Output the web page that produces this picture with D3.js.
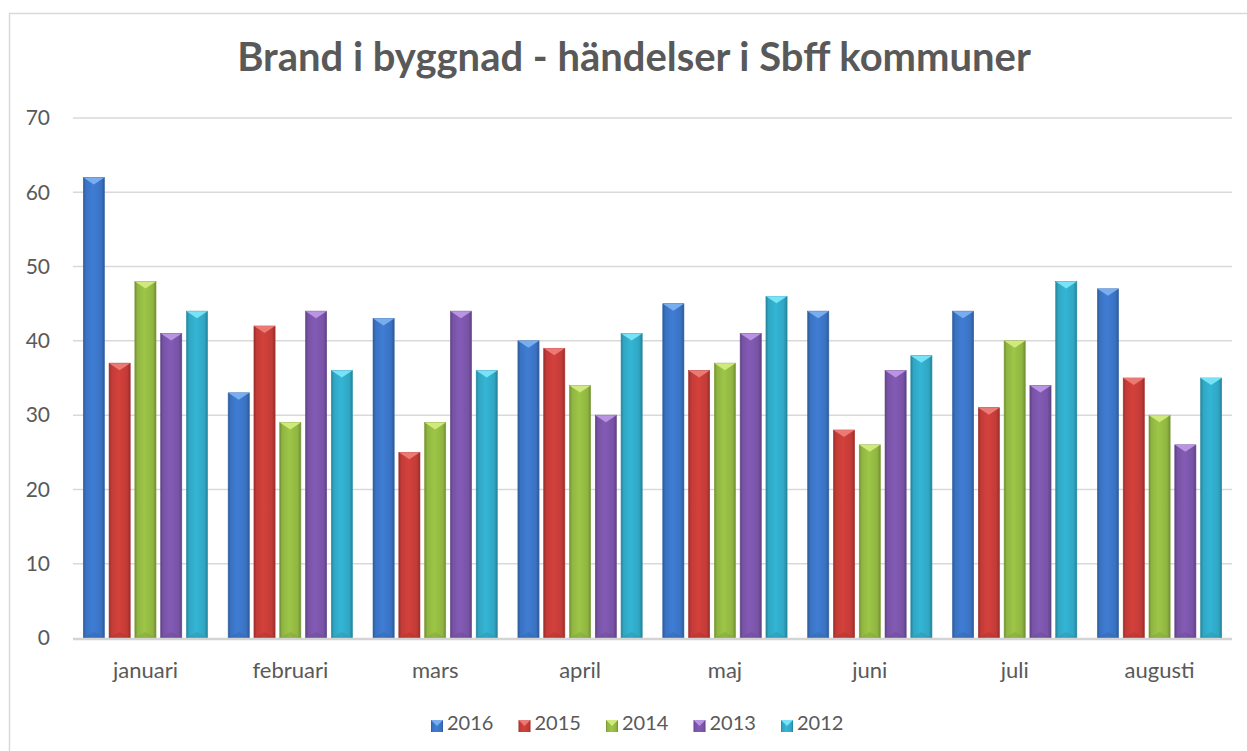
<!DOCTYPE html>
<html>
<head>
<meta charset="utf-8">
<script src="https://cdn.jsdelivr.net/npm/d3@7"></script>
<style>
  body { margin: 0; background: #fff; }
  text { font-family: Lato, "Open Sans", sans-serif; fill: #595959; }
</style>
</head>
<body>
<svg id="chart" width="1247" height="751"></svg>
<script>
'use strict'

let title = 'Brand i byggnad - händelser i Sbff kommuner'
let months = ['januari', 'februari', 'mars', 'april', 'maj', 'juni', 'juli', 'augusti']
let years = ['2016', '2015', '2014', '2013', '2012']
let yTicks = [0, 10, 20, 30, 40, 50, 60, 70]

let v2016 = [62, 33, 43, 40, 45, 44, 44, 47]
let v2015 = [37, 42, 25, 39, 36, 28, 31, 35]
let v2014 = [48, 29, 29, 34, 37, 26, 40, 30]
let v2013 = [41, 44, 44, 30, 41, 36, 34, 26]
let v2012 = [44, 36, 36, 41, 46, 38, 48, 35]

let baseColors = ['#3a72c2', '#c23b37', '#90b541', '#7853a6', '#30a6c3']
let lightColors = ['#78aef0', '#ec7a74', '#cfe97a', '#bb93e3', '#78e2f6']

function wrapper(){
	let series = [v2016, v2015, v2014, v2013, v2012]
	let rows = []
	months.forEach(function(m, i){
		years.forEach(function(y, j){
			rows.push({month: m, year: y, si: j, value: series[j][i]})
		})
	})

	let svg = d3.select('#chart')
	let padding = {top: 118, left: 73, right: 15, bottom: 113}
	let W = 1247, H = 751

	// outer chart border
	svg.append('rect')
		.attr('x', 9.5).attr('y', 13.5)
		.attr('width', 1260).attr('height', 780)
		.attr('fill', 'none').attr('stroke', '#d9d9d9').attr('stroke-width', 1.5)

	let titleText = svg.append('text')
		.attr('x', 634).attr('y', 71)
		.attr('text-anchor', 'middle')
		.style('font-size', '34px').style('font-weight', 'bold')
		.text(title)
	// fit title to the width it has in the original
	let tl = titleText.node().getComputedTextLength()
	titleText.style('font-size', (34 * 794 / tl) + 'px')

	let xScale = d3.scaleBand().domain(months)
		.range([padding.left, W - padding.right])
		.paddingInner(0.142).paddingOuter(0.071)
	let x1 = d3.scaleBand().domain(years)
		.range([0, xScale.bandwidth()])
		.paddingInner(0.18).paddingOuter(0)
	let yScale = d3.scaleLinear().domain([0, 70]).range([H - padding.bottom, padding.top])

	// gridlines
	svg.append('g').selectAll('line')
		.data(yTicks.filter(function(t){ return t > 0 }))
		.enter().append('line')
		.attr('x1', padding.left).attr('x2', W - padding.right)
		.attr('y1', function(d){ return yScale(d) })
		.attr('y2', function(d){ return yScale(d) })
		.attr('stroke', '#d9d9d9').attr('stroke-width', 1.5)

	let yAxis = svg.append('g')
		.attr('transform', 'translate(' + padding.left + ',0)')
		.call(d3.axisLeft(yScale).tickValues(yTicks).tickSize(0).tickPadding(23))
	yAxis.select('.domain').remove()
	yAxis.selectAll('text').style('font-size', '21px').attr('fill', '#595959')

	let xAxis = svg.append('g')
		.attr('transform', 'translate(0,' + yScale(0) + ')')
		.call(d3.axisBottom(xScale).tickSize(0).tickPadding(24))
	xAxis.select('.domain').remove()
	xAxis.selectAll('text').style('font-size', '22px').attr('fill', '#595959')

	// gradients for bevelled bars
	let defs = svg.append('defs')
	baseColors.forEach(function(c, i){
		let g = defs.append('linearGradient').attr('id', 'grad' + i)
			.attr('x1', 0).attr('x2', 1).attr('y1', 0).attr('y2', 0)
		let dark = d3.color(c).darker(0.7)
		let light = d3.color(c).brighter(0.25)
		g.append('stop').attr('offset', '0%').attr('stop-color', dark)
		g.append('stop').attr('offset', '12%').attr('stop-color', c)
		g.append('stop').attr('offset', '45%').attr('stop-color', light)
		g.append('stop').attr('offset', '85%').attr('stop-color', c)
		g.append('stop').attr('offset', '100%').attr('stop-color', dark)
	})

	let bars = svg.append('g').selectAll('.bar')
		.data(rows).enter().append('g')
		.attr('transform', function(d){ return 'translate(' + (xScale(d.month) + x1(d.year)) + ',0)' })

	let bw = x1.bandwidth()
	bars.append('rect')
		.attr('x', 0).attr('width', bw)
		.attr('y', function(d){ return yScale(d.value) })
		.attr('height', function(d){ return yScale(0) - yScale(d.value) })
		.attr('fill', function(d){ return 'url(#grad' + d.si + ')' })
		.attr('stroke', function(d){ return d3.color(baseColors[d.si]).darker(0.4) })
		.attr('stroke-width', 0.6)

	// top bevel
	bars.append('path')
		.attr('d', function(d){
			let y0 = yScale(d.value)
			return 'M0,' + y0 + 'L' + bw + ',' + y0 + 'L' + (bw / 2) + ',' + (y0 + 7) + 'Z'
		})
		.attr('fill', function(d){ return lightColors[d.si] })

	// bottom bevel shadow
	bars.append('path')
		.attr('d', function(d){
			let y0 = yScale(0)
			return 'M0,' + y0 + 'L' + bw + ',' + y0 + 'L' + (bw / 2) + ',' + (y0 - 6) + 'Z'
		})
		.attr('fill', function(d){ return d3.color(baseColors[d.si]).darker(0.4) })
		.attr('opacity', 0.4)

	// baseline
	svg.append('line')
		.attr('x1', padding.left).attr('x2', W - padding.right)
		.attr('y1', yScale(0) + 1).attr('y2', yScale(0) + 1)
		.attr('stroke', '#d4d4d4').attr('stroke-width', 2.5)

	// legend
	let legend = svg.append('g').attr('transform', 'translate(431,726)')
	let items = legend.selectAll('g').data(years).enter().append('g')
		.attr('transform', function(d, i){ return 'translate(' + (i * 87.5) + ',0)' })
	items.append('rect')
		.attr('x', 0).attr('y', -6).attr('width', 12).attr('height', 12)
		.attr('fill', function(d, i){ return 'url(#grad' + i + ')' })
	items.append('path')
		.attr('d', 'M0,-6L12,-6L6,0Z')
		.attr('fill', function(d, i){ return lightColors[i] })
	items.append('text')
		.attr('x', 16).attr('y', 4)
		.style('font-size', '20px')
		.text(function(d){ return d })
}

wrapper()
</script>
</body>
</html>
